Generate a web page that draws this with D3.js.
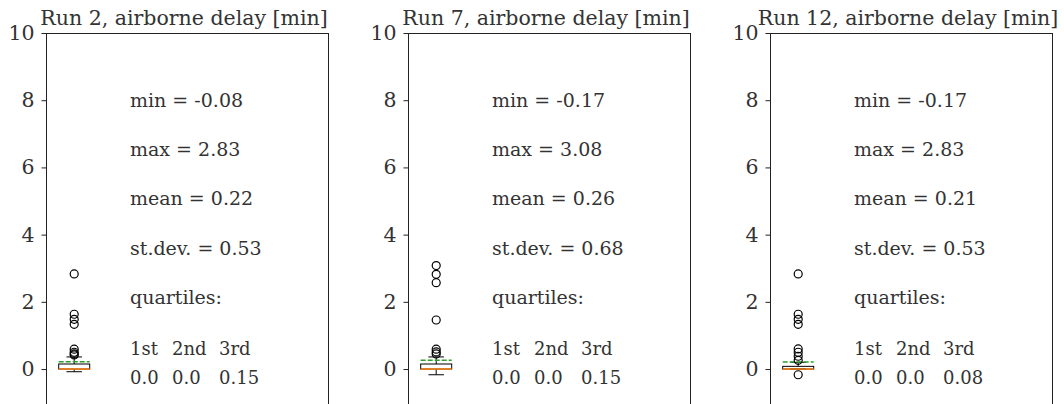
<!DOCTYPE html>
<html>
<head>
<meta charset="utf-8">
<script src="https://cdn.jsdelivr.net/npm/d3@7"></script>
<style>
  html, body { margin: 0; padding: 0; background: #fff; }
  svg text { font-family: "DejaVu Serif", serif; fill: #333; }
</style>
</head>
<body>
<svg id="chart" width="1064" height="404"></svg>
<script>
// Airborne delay per run [min]
const runs = ["Run 2", "Run 7", "Run 12"];

// box statistics: whisker low, Q1, median, Q3, whisker high, mean
const whiskerLow  = [-0.08, -0.17, 0.0];
const q1          = [0.0, 0.0, 0.0];
const median      = [0.0, 0.0, 0.0];
const q3          = [0.15, 0.15, 0.08];
const whiskerHigh = [0.36, 0.36, 0.2];
const means       = [0.22, 0.26, 0.21];

// points beyond the whiskers
const outliers = [
  [2.83, 1.63, 1.48, 1.33, 0.59, 0.5, 0.45, 0.42],
  [3.08, 2.82, 2.57, 1.46, 0.59, 0.51, 0.45],
  [2.83, 1.63, 1.48, 1.33, 0.6, 0.5, 0.38, 0.26, -0.17]
];

// printed summary
const statMin   = ["-0.08", "-0.17", "-0.17"];
const statMax   = ["2.83", "3.08", "2.83"];
const statMean  = ["0.22", "0.26", "0.21"];
const statStd   = ["0.53", "0.68", "0.53"];
const quartLabels = ["1st", "2nd", "3rd"];
const quartValues = [["0.0", "0.0", "0.15"], ["0.0", "0.0", "0.15"], ["0.0", "0.0", "0.08"]];

const yTicks = [0, 2, 4, 6, 8, 10];

const svg = d3.select("#chart");
const panelLeft = [46, 408, 770];
const panelW = 282;
const plotTop = 33;
const plotBottom = 405;
const serif = '"DejaVu Serif", serif';

const y = d3.scaleLinear().domain([-1.07, 10]).range([plotBottom, plotTop]);
const x = d3.scaleLinear().domain([0.5, 5.5]).range([0, panelW]);
const boxW = 0.55;

runs.forEach((run, i) => {
  const g = svg.append("g").attr("transform", `translate(${panelLeft[i]},0)`);

  // frame
  g.append("rect")
    .attr("x", 0.5).attr("y", plotTop + 0.5)
    .attr("width", panelW).attr("height", plotBottom - plotTop)
    .attr("fill", "none").attr("stroke", "#222").attr("stroke-width", 1);

  // y axis
  const axis = g.append("g").attr("transform", "translate(0.5,0)")
    .call(d3.axisLeft(y).tickValues(yTicks).tickSize(5).tickPadding(7).tickFormat(d3.format("d")));
  axis.attr("font-family", serif);
  axis.select(".domain").remove();
  axis.selectAll("line").attr("stroke", "#222");
  axis.selectAll("text").style("font-size", "20.5px").attr("fill", "#333");

  // title
  g.append("text")
    .attr("x", panelW / 2 - 3).attr("y", 25)
    .attr("text-anchor", "middle")
    .attr("font-family", serif)
    .style("font-size", "20.5px")
    .text(`${run}, airborne delay [min]`);

  // box plot
  const cx = x(1);
  const hw = (x(1 + boxW / 2) - x(1));
  const capW = hw / 2;
  const box = g.append("g");

  box.append("line").attr("x1", cx).attr("x2", cx)
    .attr("y1", y(q3[i])).attr("y2", y(whiskerHigh[i])).attr("stroke", "#000");
  box.append("line").attr("x1", cx).attr("x2", cx)
    .attr("y1", y(q1[i])).attr("y2", y(whiskerLow[i])).attr("stroke", "#000");
  [whiskerLow[i], whiskerHigh[i]].forEach(v => {
    box.append("line").attr("x1", cx - capW).attr("x2", cx + capW)
      .attr("y1", y(v)).attr("y2", y(v)).attr("stroke", "#000");
  });
  box.append("rect")
    .attr("x", cx - hw).attr("y", y(q3[i]))
    .attr("width", 2 * hw).attr("height", Math.max(0, y(q1[i]) - y(q3[i])))
    .attr("fill", "none").attr("stroke", "#000");
  box.append("line").attr("x1", cx - hw).attr("x2", cx + hw)
    .attr("y1", y(median[i])).attr("y2", y(median[i]))
    .attr("stroke", "#ff7f0e").attr("stroke-width", 1.5);
  box.append("line").attr("x1", cx - hw).attr("x2", cx + hw)
    .attr("y1", y(means[i])).attr("y2", y(means[i]))
    .attr("stroke", "#2ca02c").attr("stroke-width", 1.5).attr("stroke-dasharray", "5,2");
  box.selectAll("circle.fl").data(outliers[i]).join("circle")
    .attr("class", "fl")
    .attr("cx", cx).attr("cy", d => y(d)).attr("r", 4)
    .attr("fill", "none").attr("stroke", "#000").attr("stroke-width", 1.2);

  // summary text
  const tx = 84;
  const lines = [
    `min = ${statMin[i]}`,
    `max = ${statMax[i]}`,
    `mean = ${statMean[i]}`,
    `st.dev. = ${statStd[i]}`,
    "quartiles:"
  ];
  const lineY = [107, 156, 205, 255, 304];
  lines.forEach((t, k) => {
    g.append("text").attr("x", tx).attr("y", lineY[k])
      .attr("font-family", serif)
      .style("font-size", "19px").text(t);
  });
  const colX = [tx, tx + 42, tx + 89];
  quartLabels.forEach((t, k) => {
    g.append("text").attr("x", colX[k]).attr("y", 355).attr("font-family", serif)
      .style("font-size", "18px").text(t);
    g.append("text").attr("x", colX[k]).attr("y", 384).attr("font-family", serif)
      .style("font-size", "18px").text(quartValues[i][k]);
  });
});
</script>
</body>
</html>
